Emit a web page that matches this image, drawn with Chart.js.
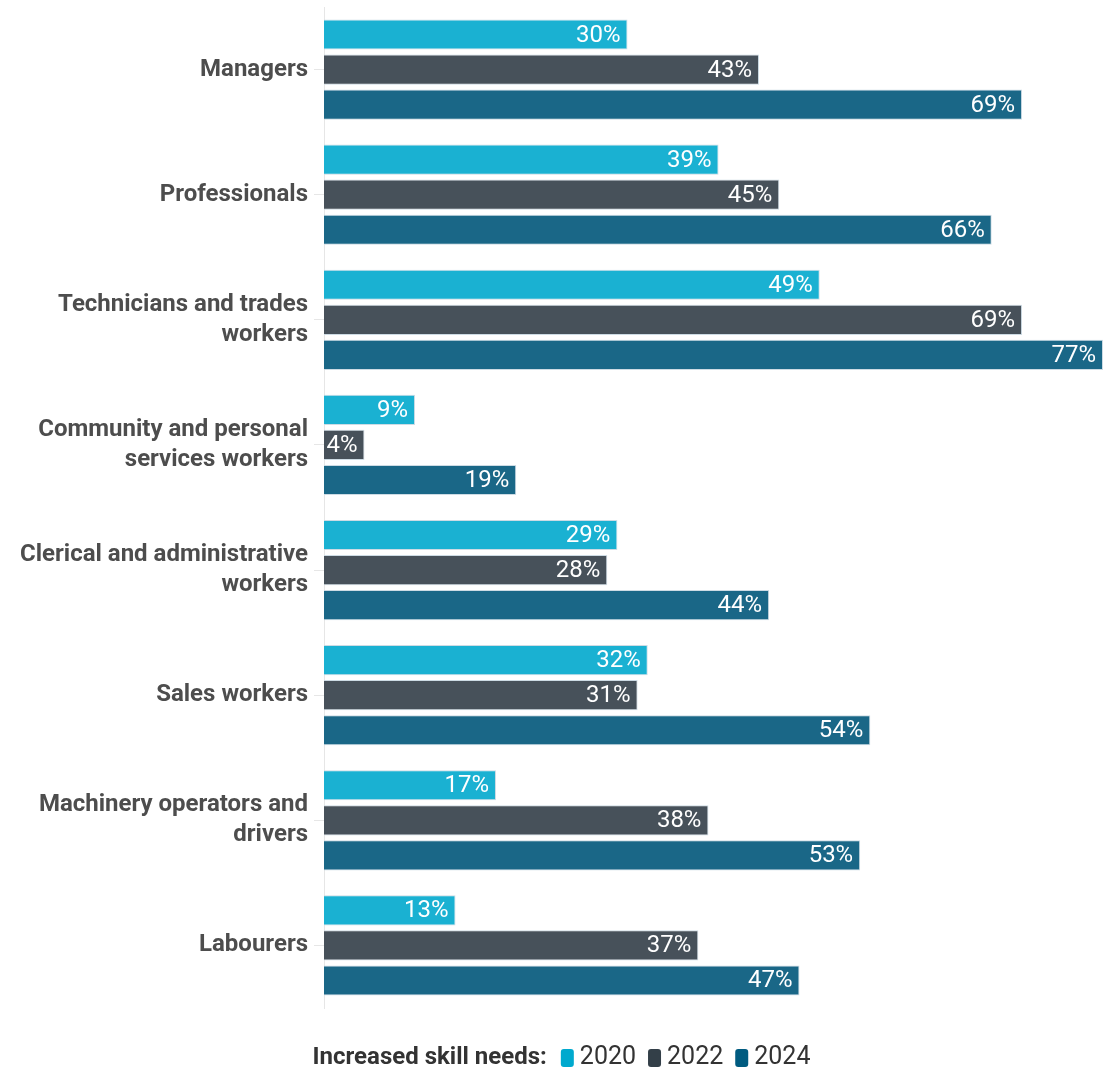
<!DOCTYPE html>
<html>
<head>
<meta charset="utf-8">
<script src="https://cdn.jsdelivr.net/npm/chart.js@4/dist/chart.umd.min.js"></script>
<style>
  html, body { margin: 0; padding: 0; background: #ffffff; }
  #wrap { position: relative; width: 1103px; height: 1072px; }
</style>
</head>
<body>
<div id="wrap"><canvas id="chart" width="1103" height="1072"></canvas></div>
<script>
// Occupation groups (y-axis categories)
const categories = [
  "Managers",
  "Professionals",
  ["Technicians and trades", "workers"],
  ["Community and personal", "services workers"],
  ["Clerical and administrative", "workers"],
  "Sales workers",
  ["Machinery operators and", "drivers"],
  "Labourers"
];

// Share reporting increased skill needs (%)
const values2020 = [30, 39, 49, 9, 29, 32, 17, 13];
const values2022 = [43, 45, 69, 4, 28, 31, 38, 37];
const values2024 = [69, 66, 77, 19, 44, 54, 53, 47];

const seriesNames = ["2020", "2022", "2024"];
const legendTitle = "Increased skill needs:";

const FONT = "'Roboto', sans-serif";
const barColors = ["#1ab1d2", "#47515a", "#1a6787"];
const legendColors = ["#00a9ce", "#333f48", "#005b80"];

// White value labels at the end of each bar, kept inside the plot area
const valueLabels = {
  id: "valueLabels",
  afterDatasetsDraw(chart) {
    const ctx = chart.ctx;
    const left = chart.chartArea.left;
    ctx.save();
    ctx.font = "24px " + FONT;
    ctx.fillStyle = "#ffffff";
    ctx.textBaseline = "middle";
    ctx.textAlign = "left";
    chart.data.datasets.forEach((ds, di) => {
      chart.getDatasetMeta(di).data.forEach((bar, i) => {
        const txt = ds.data[i] + "%";
        const w = ctx.measureText(txt).width;
        const x = Math.max(bar.x - 7 - w, left + 2);
        ctx.fillText(txt, x, bar.y + 1);
      });
    });
    ctx.restore();
  }
};

// Inline legend under the plot: bold title followed by rounded swatches
const inlineLegend = {
  id: "inlineLegend",
  afterDraw(chart) {
    const ctx = chart.ctx;
    const y = 1058;
    ctx.save();
    ctx.textBaseline = "middle";
    const titleFont = "bold 24px " + FONT;
    const itemFont = "25px " + FONT;
    ctx.font = titleFont;
    const titleW = ctx.measureText(legendTitle).width;
    ctx.font = itemFont;
    const sw = 13, swH = 18, gapSw = 6, gapItem = 12, gapTitle = 14;
    let total = titleW + gapTitle;
    const itemW = seriesNames.map(n => ctx.measureText(n).width);
    itemW.forEach((w, i) => { total += sw + gapSw + w + (i < itemW.length - 1 ? gapItem : 0); });
    let x = (chart.width - total) / 2 + 10;
    ctx.font = titleFont;
    ctx.fillStyle = "#333333";
    ctx.fillText(legendTitle, x, y);
    x += titleW + gapTitle;
    ctx.font = itemFont;
    seriesNames.forEach((n, i) => {
      ctx.fillStyle = legendColors[i];
      ctx.beginPath();
      ctx.roundRect(x, y - swH / 2, sw, swH, 3);
      ctx.fill();
      x += sw + gapSw;
      ctx.fillStyle = "#333333";
      ctx.fillText(n, x, y);
      x += itemW[i] + gapItem;
    });
    ctx.restore();
  }
};

new Chart(document.getElementById("chart"), {
  type: "bar",
  data: {
    labels: categories,
    datasets: [values2020, values2022, values2024].map((d, i) => ({
      label: seriesNames[i],
      data: d,
      backgroundColor: barColors[i],
      borderColor: "rgba(200,215,225,0.9)",
      borderWidth: 1,
      categoryPercentage: 0.84,
      barPercentage: 0.86
    }))
  },
  options: {
    indexAxis: "y",
    responsive: false,
    animation: false,
    devicePixelRatio: 1,
    layout: { padding: { top: 7, bottom: 64, left: 0, right: 0 } },
    plugins: {
      legend: { display: false },
      tooltip: { enabled: false }
    },
    scales: {
      x: {
        display: false,
        min: 0,
        max: 77
      },
      y: {
        afterFit(scale) {
          scale.width = 324;
          scale.paddingTop = 0;
          scale.paddingBottom = 0;
        },
        grid: {
          display: true,
          offset: false,
          drawOnChartArea: false,
          drawTicks: true,
          tickLength: 10,
          color: "#e6e6e6"
        },
        border: { display: true, color: "#e6e6e6", width: 1 },
        ticks: {
          padding: 6,
          color: "#4d4d4d",
          font: { family: FONT, size: 24, weight: "bold", lineHeight: 1.25 }
        }
      }
    }
  },
  plugins: [valueLabels, inlineLegend]
});
</script>
</body>
</html>
